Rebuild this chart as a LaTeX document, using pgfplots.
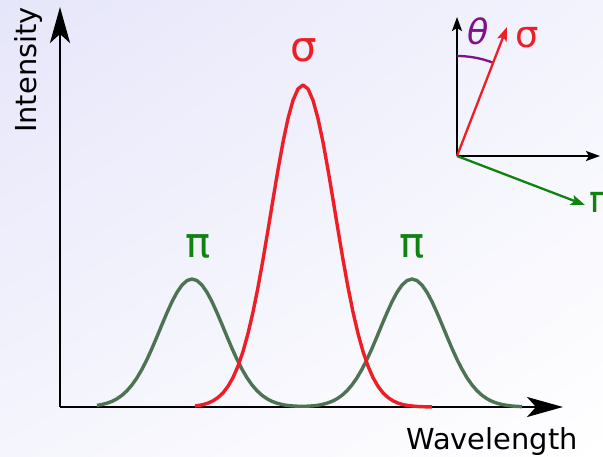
\documentclass[border=0pt]{standalone}
\usepackage{fontspec}
\setmainfont{DejaVu Sans}
\usepackage{pgfplots}
\pgfplotsset{compat=1.18}
\usetikzlibrary{arrows.meta,shadings}

\definecolor{sigred}{RGB}{238,30,38}
\definecolor{pigreen}{RGB}{76,116,82}
\definecolor{lblgreen}{RGB}{16,130,16}
\definecolor{thetapurple}{RGB}{128,16,140}
\definecolor{bgA}{RGB}{230,230,250}
\definecolor{bgB}{RGB}{243,243,253}
\definecolor{bgC}{RGB}{245,245,253}

\begin{document}
\begin{tikzpicture}
% page background
\shade[upper left=bgA, upper right=bgB, lower left=bgC, lower right=white]
  (0,0) rectangle (603bp,457bp);
\path[use as bounding box] (0,0) rectangle (603bp,457bp);

\begin{axis}[
  at={(60bp,50bp)}, anchor=south west,
  scale only axis, width=503bp, height=400bp,
  xmin=60, xmax=563, ymin=0, ymax=400,
  enlargelimits=false,
  axis lines=left,
  axis line style={line width=2.6bp, black,
    -{Stealth[length=36bp,width=20bp,inset=9bp]}},
  ticks=none,
  clip=false,
  axis on top=false,
]
% pi components (two side peaks)
\addplot[pigreen, line width=3.4bp, line join=round] coordinates {
 (97,1.6) (102,2.5) (107,3.8) (112,5.6) (117,8.2) (122,11.7) (127,16.3)
 (132,22.1) (137,29.2) (142,37.8) (147,47.6) (152,58.6) (157,70.4)
 (162,82.5) (167,94.3) (172,105.3) (177,114.7) (182,121.9) (187,126.4)
 (192,128.0) (197,126.4) (202,121.9) (207,114.7) (212,105.3) (217,94.3)
 (222,82.5) (227,70.4) (232,58.6) (237,47.6) (242,37.8) (247,29.2)
 (252,22.1) (257,16.3) (262,11.7) (267,8.2) (272,5.6) (277,3.8)
 (282,2.5) (287,1.6) (292,1.1) (297,0.8) (302,0.7) (307,0.8) (312,1.1)
 (317,1.6) (322,2.5) (327,3.8) (332,5.6) (337,8.2) (342,11.7) (347,16.3)
 (352,22.1) (357,29.2) (362,37.8) (367,47.6) (372,58.6) (377,70.4)
 (382,82.5) (387,94.3) (392,105.3) (397,114.7) (402,121.9) (407,126.4)
 (412,128.0) (417,126.4) (422,121.9) (427,114.7) (432,105.3) (437,94.3)
 (442,82.5) (447,70.4) (452,58.6) (457,47.6) (462,37.8) (467,29.2)
 (472,22.1) (477,16.3) (482,11.7) (487,8.2) (492,5.6) (497,3.8)
 (502,2.5) (507,1.6) (512,1.0) (517,0.6) (522,0.35)
};
% sigma component (central peak)
\addplot[sigred, line width=3.4bp, line join=round] coordinates {
 (195,1.1) (198,1.5) (203,2.4) (208,3.9) (213,6.2) (218,9.5) (223,14.1)
 (228,20.7) (233,29.4) (238,40.9) (243,55.5) (248,73.5) (253,95.0)
 (258,119.8) (263,147.4) (268,177.1) (273,207.5) (278,237.3) (283,264.9)
 (288,288.5) (293,306.7) (298,318.1) (303,322.0) (308,318.1) (313,306.7)
 (318,288.5) (323,264.9) (328,237.3) (333,207.5) (338,177.1) (343,147.4)
 (348,119.8) (353,95.0) (358,73.5) (363,55.5) (368,40.9) (373,29.4)
 (378,20.7) (383,14.1) (388,9.5) (393,6.2) (398,3.9) (403,2.4)
 (408,1.5) (413,0.9) (418,0.5) (425,0.2) (432,0.1)
};

% peak labels
\node[sigred, font=\fontsize{42}{48}\selectfont, inner sep=0pt]
  at (axis cs:304,357) {σ};
\node[lblgreen, font=\fontsize{42}{48}\selectfont, inner sep=0pt]
  at (axis cs:198,161) {π};
\node[lblgreen, font=\fontsize{42}{48}\selectfont, inner sep=0pt]
  at (axis cs:412,161) {π};

% axis titles
\node[anchor=base, font=\fontsize{29}{34}\selectfont, inner sep=0pt]
  at (axis cs:492,-43) {Wavelength};
\node[anchor=base, rotate=90, font=\fontsize{29}{34}\selectfont, inner sep=0pt]
  at (axis cs:37,337) {Intensity};

% polarization geometry sketch
\draw[black, line width=2.3bp, -{Stealth[length=14bp,width=10bp,inset=3bp]}]
  (axis cs:457,251) -- (axis cs:457,390);
\draw[black, line width=2.3bp, -{Stealth[length=14bp,width=10bp,inset=3bp]}]
  (axis cs:457,251) -- (axis cs:600,251);
\draw[thetapurple, line width=2.3bp]
  (axis cs:457,351) arc[start angle=90, end angle=68.8, radius=100bp];
\draw[sigred, line width=2.3bp, -{Stealth[length=14bp,width=10bp,inset=3bp]}]
  (axis cs:457,251) -- (axis cs:507,380);
\draw[lblgreen, line width=2.3bp, -{Stealth[length=14bp,width=10bp,inset=3bp]}]
  (axis cs:457,251) -- (axis cs:585,202);
\node[thetapurple, font=\fontsize{35}{40}\selectfont\itshape, inner sep=0pt]
  at (axis cs:478,376) {θ};
\node[sigred, font=\fontsize{37}{42}\selectfont, inner sep=0pt]
  at (axis cs:527,369) {σ};
\node[lblgreen, anchor=west, font=\fontsize{37}{42}\selectfont, inner sep=0pt]
  at (axis cs:589,204) {π};
\end{axis}
\end{tikzpicture}
\end{document}
